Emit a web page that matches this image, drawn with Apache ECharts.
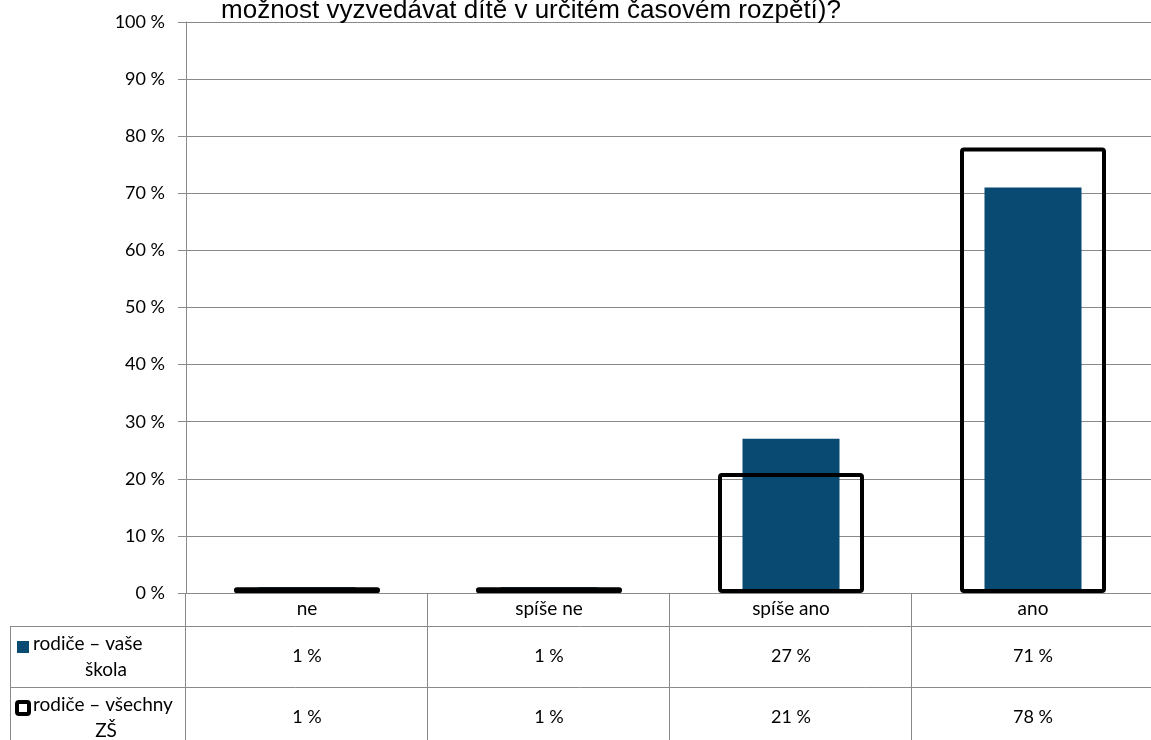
<!DOCTYPE html>
<html>
<head>
<meta charset="utf-8">
<script src="https://cdn.jsdelivr.net/npm/echarts@6/dist/echarts.min.js"></script>
<style>
  html, body { margin: 0; padding: 0; background: #fff; }
  #chart { width: 1151px; height: 740px; }
</style>
</head>
<body>
<div id="chart"></div>
<script>
// data
var categories = ['ne', 'spíše ne', 'spíše ano', 'ano']
var seriesNames = [['rodiče – vaše', 'škola'], ['rodiče – všechny', 'ZŠ']]
var skolaValues = [1, 1, 27, 71]
var vsechnyValues = [1, 1, 21, 78]
var titleText = 'možnost vyzvedávat dítě v určitém časovém rozpětí)?'

var gridColor = '#898989'
var blue = '#094a72'
var labelFont = 'Lato'
var numSize = 18
var wordSize = 19

var chart = echarts.init(document.getElementById('chart'))

var option = {
  animation: false,
  title: {
    text: titleText,
    left: 526,
    textAlign: 'center',
    top: -7,
    textStyle: { fontFamily: 'Liberation Sans', fontSize: 26, fontWeight: 'normal', color: '#000' }
  },
  grid: { left: 186, top: 22, width: 968, height: 571, containLabel: false, outerBoundsMode: 'none' },
  xAxis: [
    {
      type: 'category',
      data: categories,
      axisLine: { lineStyle: { color: gridColor } },
      axisTick: { show: false },
      axisLabel: { margin: 6, fontFamily: labelFont, fontSize: wordSize, color: '#000' }
    },
    {
      type: 'category',
      data: categories,
      show: false
    }
  ],
  yAxis: {
    type: 'value',
    min: 0,
    max: 100,
    interval: 10,
    axisLine: { show: true, lineStyle: { color: gridColor } },
    axisTick: { show: true, length: 8, lineStyle: { color: gridColor } },
    splitLine: { lineStyle: { color: gridColor } },
    axisLabel: { formatter: '{value} %', margin: 21, fontFamily: labelFont, fontSize: numSize, color: '#000' }
  },
  series: [
    {
      name: 'rodiče – vaše škola',
      type: 'bar',
      xAxisIndex: 0,
      data: skolaValues,
      barWidth: 97,
      itemStyle: { color: blue }
    },
    {
      name: 'rodiče – všechny ZŠ',
      type: 'bar',
      xAxisIndex: 1,
      data: vsechnyValues,
      barWidth: 146,
      z: 3,
      itemStyle: { color: 'rgba(0,0,0,0)', borderColor: '#000', borderWidth: 4, borderRadius: 2 }
    }
  ]
}
chart.setOption(option)

// data table under the chart
var rows = [skolaValues, vsechnyValues]
var rowTop = [626, 687]
var rowH = 61
var gx0 = 186
var step = chart.convertToPixel({ xAxisIndex: 0 }, 1) - chart.convertToPixel({ xAxisIndex: 0 }, 0)
var lineStyle = { stroke: gridColor, lineWidth: 1 }
var numFont = numSize + 'px ' + labelFont
var wordFont = wordSize + 'px ' + labelFont
var graphics = []

// horizontal lines
rowTop.forEach(function (y) {
  graphics.push({ type: 'line', shape: { x1: 10, y1: y + 0.5, x2: 1151, y2: y + 0.5 }, style: lineStyle, silent: true })
})
graphics.push({ type: 'line', shape: { x1: 10.5, y1: 626, x2: 10.5, y2: 740 }, style: lineStyle, silent: true })
graphics.push({ type: 'line', shape: { x1: gx0 - 0.5, y1: 593, x2: gx0 - 0.5, y2: 740 }, style: lineStyle, silent: true })
for (var i = 1; i < categories.length; i++) {
  var xb = Math.round(gx0 + step * i) - 0.5
  graphics.push({ type: 'line', shape: { x1: xb, y1: 593, x2: xb, y2: 740 }, style: lineStyle, silent: true })
}

// value cells
rows.forEach(function (vals, r) {
  vals.forEach(function (v, c) {
    graphics.push({
      type: 'text',
      x: chart.convertToPixel({ xAxisIndex: 0 }, c),
      y: rowTop[r] + rowH / 2,
      silent: true,
      style: { text: v + ' %', font: numFont, fill: '#000', align: 'center', verticalAlign: 'middle' }
    })
  })
})

// legend cells (key + wrapped name)
graphics.push({ type: 'rect', shape: { x: 17, y: 641, width: 12, height: 12 }, style: { fill: blue }, silent: true })
graphics.push({ type: 'rect', shape: { x: 17, y: 702, width: 12, height: 12, r: 2 }, style: { fill: '#fff', stroke: '#000', lineWidth: 4 }, silent: true })
seriesNames.forEach(function (lines, r) {
  var yc = rowTop[r] + rowH / 2
  graphics.push({
    type: 'text', x: 33, y: yc - 13, silent: true,
    style: { text: lines[0], font: wordFont, fill: '#000', align: 'left', verticalAlign: 'middle' }
  })
  graphics.push({
    type: 'text', x: 106, y: yc + 13, silent: true,
    style: { text: lines[1], font: wordFont, fill: '#000', align: 'center', verticalAlign: 'middle' }
  })
})

chart.setOption({ graphic: graphics })
</script>
</body>
</html>
